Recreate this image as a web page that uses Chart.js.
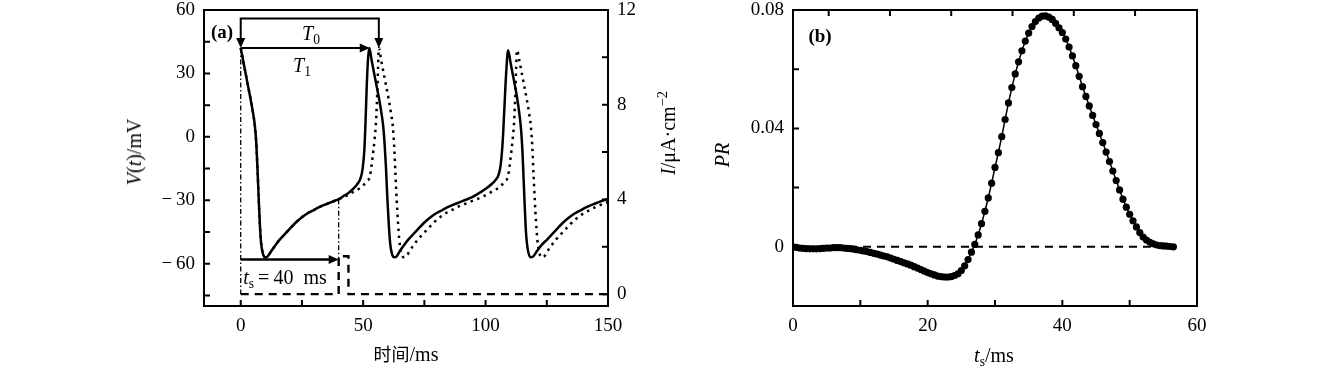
<!DOCTYPE html>
<html>
<head>
<meta charset="utf-8">
<script src="https://cdn.jsdelivr.net/npm/chart.js@4/dist/chart.umd.min.js"></script>
<style>
  body { margin: 0; background: #fff; width: 1339px; height: 370px; overflow: hidden; position: relative; font-family: 'Liberation Serif', serif; color: #000; }
  canvas { position: absolute; top: 0; }
  #chartA { left: 0; }
  #chartB { left: 700px; }
  .lbl { position: absolute; transform: translate(-50%, -50%); white-space: nowrap; font-size: 20px; line-height: 1; }
  .rot { transform: translate(-50%, -50%) rotate(-90deg); }
  .cjk { font-family: 'Noto Sans CJK SC', sans-serif; font-size: 18px; }
  .tag { font-weight: bold; font-size: 19px; }
  sub { font-size: 0.68em; vertical-align: -0.3em; line-height: 0; }
  sup { font-size: 0.72em; vertical-align: 0.55em; line-height: 0; }
</style>
</head>
<body>
<canvas id="chartA" width="700" height="370"></canvas>
<canvas id="chartB" width="639" height="370"></canvas>

<div class="lbl rot" style="left:134px;top:152px"><i>V</i>(<i>t</i>)/mV</div>
<div class="lbl rot" style="left:668px;top:133px"><i>I</i>/μA·cm<sup>−2</sup></div>
<div class="lbl" style="left:406px;top:354px"><span class="cjk">时间</span>/ms</div>
<div class="lbl tag" style="left:222px;top:31px">(a)</div>
<div class="lbl" style="left:311px;top:33px"><i>T</i><sub>0</sub></div>
<div class="lbl" style="left:302px;top:65px"><i>T</i><sub>1</sub></div>
<div class="lbl" style="left:285px;top:277px"><i>t</i><sub>s</sub>&thinsp;=&thinsp;40&nbsp; ms</div>

<div class="lbl rot" style="left:722px;top:155px"><i>PR</i></div>
<div class="lbl" style="left:994px;top:355px"><i>t</i><sub>s</sub>/ms</div>
<div class="lbl tag" style="left:820px;top:35px">(b)</div>

<script>
// --- panel (a): membrane potential traces [t (ms), V (mV)] ---
const solidTrace = [
  [0,42],[1,36],[2,30],[3,24],[4,18],[5,11.5],[5.7,6],[6.3,-2],[6.8,-14],[7.3,-28],[7.8,-41],[8.3,-50],[9,-55],[10,-57],
  [11,-56.5],[12.5,-54],[14,-51.5],[16,-48.5],[18,-46],[20,-43.5],[22.5,-40.5],[25,-38],[27.5,-36],[30,-34.5],[32.5,-33],
  [35,-31.8],[37.5,-30.6],[40,-29.5],[42,-28],[44,-26.5],[46,-24.5],[47.5,-22.5],[48.8,-20],[49.8,-15],[50.5,-6],[51,8],
  [51.5,25],[52,37],[52.5,42],
  [53.5,36],[54.5,30],[55.5,24],[56.5,18],[57.5,11],[58.2,5],[58.8,-4],[59.3,-14],[59.8,-27],[60.4,-40],[61,-50],[61.7,-55],
  [62.7,-57],[63.7,-56.5],[65,-54],[66.5,-51.5],[68.5,-48.5],[70.5,-46],[72.5,-43.5],[75,-40.5],[77.5,-38],[80,-36],
  [82.5,-34.5],[85,-33],[87.5,-31.8],[90,-30.6],[92.5,-29.5],[94.5,-28.5],[96.5,-27.2],[98.5,-25.8],[100.5,-24.2],
  [102.5,-22.3],[104,-20.5],[105.3,-18],[106.2,-13],[107,-2],[107.7,14],[108.4,30],[109.2,41],
  [110.2,35],[111.2,29],[112.2,23],[113.2,16],[114,9],[114.6,2],[115.1,-8],[115.5,-19],[116,-33],[116.5,-45],[117.2,-53],
  [118.4,-57],[119.5,-56.5],[121,-54],[123,-51],[125.2,-48.5],[127.2,-46],[129.2,-43.5],[131.7,-40.5],[134.2,-38],
  [136.7,-36],[139.2,-34.5],[141.7,-33],[144.2,-31.8],[146.7,-30.6],[150,-29.3]
];
const dottedTrace = [
  [0,42],[1,36],[2,30],[3,24],[4,18],[5,11.5],[5.7,6],[6.3,-2],[6.8,-14],[7.3,-28],[7.8,-41],[8.3,-50],[9,-55],[10,-57],
  [11,-56.5],[12.5,-54],[14,-51.5],[16,-48.5],[18,-46],[20,-43.5],[22.5,-40.5],[25,-38],[27.5,-36],[30,-34.5],[32.5,-33],
  [35,-31.8],[37.5,-30.6],[40,-29.5],[42,-28.5],[44,-27.3],[46,-26],[48,-24.8],[50,-23],[51.5,-21],[52.8,-18.5],[53.8,-10],
  [54.6,-2],[55.3,8],[55.8,22],[56.1,33],[56.4,42],
  [57.4,36],[58.4,30],[59.4,24],[60.4,18],[61.4,11],[62.1,5],[62.7,-5],[63.2,-18],[63.7,-30],[64.2,-40],[64.7,-48],
  [65.4,-54],[66.6,-57],[67.6,-56.5],[69,-54],[70.4,-51.5],[72.4,-48.5],[74.4,-46],[76.4,-43.5],[78.9,-40.5],[81.4,-38],
  [83.9,-36],[86.4,-34.5],[88.9,-33],[91.4,-31.8],[93.9,-30.6],[96.4,-29.5],[98.4,-28.5],[100.4,-27.3],[102.4,-26],
  [104.4,-24.8],[106.4,-23],[107.9,-21],[109.2,-18.5],[110.2,-10],[111,-2],[111.7,8],[112.2,22],[112.5,33],[112.8,41],
  [113.8,36],[114.8,30],[115.8,24],[116.8,18],[117.8,11],[118.5,5],[119.1,-5],[119.6,-18],[120.1,-30],[120.6,-40],
  [121.1,-48],[121.8,-54],[123,-57],[124,-56.5],[125.3,-54],[126.8,-51.5],[128.8,-48.5],[130.8,-46],[132.8,-43.5],
  [135.3,-40.5],[137.8,-38],[140.3,-36],[142.8,-34.5],[145.3,-33],[147.8,-31.8],[150,-30.8]
];
// stimulus current pulse
const pulseTime = [0, 40, 40, 44, 44, 150];
const pulseCurrent = [0, 0, 1.6, 1.6, 0, 0];

// arrows / guides in panel (a)
const T0 = 56.4, T1 = 52.7, TS = 40;
const vT0Bar = 56, vPeak = 42, vTsArrow = -58, vAtTs = -29.5;

// tick values, panel (a)
const ticksTimeA = [0, 50, 100, 150];
const minorTimeA = [25, 75, 125];
const ticksV = [-60, -30, 0, 30, 60];
const minorV = [-75, -45, -15, 15, 45];
const ticksI = [0, 4, 8, 12];
const minorI = [2, 6, 10];

// --- panel (b): PR versus ts ---
const tsValues = [
  0,0.5,1,1.5,2,2.5,3,3.5,4,4.5,5,5.5,6,6.5,7,7.5,8,8.5,9,9.5,10,10.5,11,11.5,12,12.5,13,13.5,14,14.5,
  15,15.5,16,16.5,17,17.5,18,18.5,19,19.5,20,20.5,21,21.5,22,22.5,23,23.5,24,24.5,25,25.5,26,26.5,27,27.5,
  28,28.5,29,29.5,30,30.5,31,31.5,32,32.5,33,33.5,34,34.5,35,35.5,36,36.5,37,37.5,38,38.5,39,39.5,40,40.5,
  41,41.5,42,42.5,43,43.5,44,44.5,45,45.5,46,46.5,47,47.5,48,48.5,49,49.5,50,50.5,51,51.5,52,52.5,53,53.5,
  54,54.5,55,55.5,56,56.5
];
const prValues = [
  0,-0.0002,-0.0004,-0.0005,-0.0006,-0.0007,-0.0007,-0.0007,-0.0006,-0.0005,-0.0004,-0.0004,-0.0003,-0.0003,-0.0003,-0.0004,
  -0.0005,-0.0006,-0.0008,-0.0010,-0.0012,-0.0014,-0.0016,-0.0019,-0.0022,-0.0025,-0.0028,-0.0031,-0.0034,-0.0038,
  -0.0042,-0.0046,-0.0050,-0.0054,-0.0058,-0.0062,-0.0067,-0.0072,-0.0077,-0.0082,-0.0087,-0.0091,-0.0095,-0.0099,
  -0.0101,-0.0102,-0.0102,-0.0101,-0.0097,-0.0091,-0.0080,-0.0064,-0.0043,-0.0018,0.0008,0.0040,
  0.0078,0.0120,0.0165,0.0215,0.0268,0.0318,0.0372,0.0430,0.0486,0.0538,0.0584,0.0625,0.0662,0.0695,0.0722,0.0744,
  0.0761,0.0773,0.0779,0.0780,0.0776,0.0768,0.0755,0.0740,0.0724,0.0702,
  0.0675,0.0645,0.0612,0.0576,0.0541,0.0508,0.0476,0.0444,0.0413,0.0383,0.0352,0.0320,0.0288,0.0256,0.0224,0.0192,
  0.0161,0.0134,0.0110,0.0088,0.0067,0.0048,0.0033,0.0023,0.0015,0.0010,
  0.0006,0.0004,0.0003,0.0002,0.0001,0
];
const zeroLineTs = [0, 56.5];

const ticksTsB = [0, 20, 40, 60];
const minorTsB = [10, 30, 50];
const topTicksB = [5.3, 14.4, 23.5, 32.6, 41.7, 50.8];
const ticksPR = [0, 0.04, 0.08];
const minorPR = [0.02, 0.06];

const TICK_LEN = 6;
const tickFont = { family: "'Liberation Serif', serif", size: 19 };

const toPts = pairs => pairs.map(([x, y]) => ({ x, y }));
const zipPts = (xs, ys) => xs.map((x, i) => ({ x, y: ys[i] }));
const minus = v => (v < 0 ? '\u2212\u2009' + Math.abs(v) : String(v));

function axis(extra, fixed, values, fmt) {
  return Object.assign({
    type: 'linear',
    grid: { display: false, drawTicks: false },
    border: { display: false },
    ticks: { color: '#000', font: tickFont, padding: 9, maxRotation: 0, autoSkip: false, callback: fmt },
    afterBuildTicks: s => { s.ticks = values.map(v => ({ value: v })); },
    afterFit: s => {
      fixed(s);
      // keep tick-label overflow from pushing the plot box around
      s.paddingTop = 0; s.paddingBottom = 0; s.paddingLeft = 0; s.paddingRight = 0;
    }
  }, extra);
}

// box frame + inward tick marks
function frameTicks(spec) {
  return {
    id: 'frameTicks',
    afterDraw(chart) {
      const { ctx, chartArea: a } = chart;
      ctx.save();
      ctx.strokeStyle = '#000';
      ctx.lineWidth = 2;
      ctx.strokeRect(a.left, a.top, a.right - a.left, a.bottom - a.top);
      ctx.beginPath();
      spec.forEach(({ scale, values, side }) => {
        const s = chart.scales[scale];
        values.forEach(v => {
          const p = s.getPixelForValue(v);
          if (side === 'bottom') { ctx.moveTo(p, a.bottom); ctx.lineTo(p, a.bottom - TICK_LEN); }
          if (side === 'top') { ctx.moveTo(p, a.top); ctx.lineTo(p, a.top + TICK_LEN); }
          if (side === 'left') { ctx.moveTo(a.left, p); ctx.lineTo(a.left + TICK_LEN, p); }
          if (side === 'right') { ctx.moveTo(a.right, p); ctx.lineTo(a.right - TICK_LEN, p); }
        });
      });
      ctx.stroke();
      ctx.restore();
    }
  };
}

function arrowHead(ctx, x, y, dir) {
  const len = 10, half = 4.5;
  ctx.beginPath();
  if (dir === 'right') { ctx.moveTo(x, y); ctx.lineTo(x - len, y - half); ctx.lineTo(x - len, y + half); }
  else { ctx.moveTo(x, y); ctx.lineTo(x - half, y - len); ctx.lineTo(x + half, y - len); }
  ctx.closePath();
  ctx.fill();
}

const markersA = {
  id: 'markersA',
  afterDatasetsDraw(chart) {
    const { ctx, scales: { x, yV, yI } } = chart;
    const seg = (x1, y1, x2, y2) => { ctx.beginPath(); ctx.moveTo(x1, y1); ctx.lineTo(x2, y2); ctx.stroke(); };
    const x0 = x.getPixelForValue(0), xT0 = x.getPixelForValue(T0), xT1 = x.getPixelForValue(T1), xTs = x.getPixelForValue(TS);
    const yBar = yV.getPixelForValue(vT0Bar), yPk = yV.getPixelForValue(vPeak), yTs = yV.getPixelForValue(vTsArrow);
    ctx.save();
    ctx.strokeStyle = '#000';
    ctx.fillStyle = '#000';
    // dash-dot guides
    ctx.lineWidth = 1.3;
    ctx.setLineDash([5, 2.5, 1.5, 2.5]);
    seg(x0, yPk, x0, yI.getPixelForValue(0));
    seg(xTs, yV.getPixelForValue(vAtTs), xTs, yTs);
    ctx.setLineDash([]);
    // T0 bracket
    ctx.lineWidth = 2;
    ctx.beginPath();
    ctx.moveTo(x0, yPk - 9); ctx.lineTo(x0, yBar); ctx.lineTo(xT0, yBar); ctx.lineTo(xT0, yPk - 9);
    ctx.stroke();
    arrowHead(ctx, x0, yPk, 'down');
    arrowHead(ctx, xT0, yPk, 'down');
    // T1 arrow
    seg(x0, yPk, xT1 - 9, yPk);
    arrowHead(ctx, xT1, yPk, 'right');
    // ts arrow
    ctx.lineWidth = 2.5;
    seg(x0, yTs, xTs - 9, yTs);
    arrowHead(ctx, xTs, yTs, 'right');
    ctx.restore();
  }
};

new Chart(document.getElementById('chartA'), {
  type: 'scatter',
  data: {
    datasets: [
      { data: toPts(solidTrace), yAxisID: 'yV', showLine: true, borderColor: '#000', borderWidth: 2.5,
        pointRadius: 0, cubicInterpolationMode: 'monotone' },
      { data: toPts(dottedTrace), yAxisID: 'yV', showLine: true, borderColor: '#000', borderWidth: 2.5,
        borderDash: [2.5, 4.5], pointRadius: 0, cubicInterpolationMode: 'monotone' },
      { data: zipPts(pulseTime, pulseCurrent), yAxisID: 'yI', showLine: true, borderColor: '#000', borderWidth: 2.4,
        borderDash: [8, 6], pointRadius: 0, tension: 0 }
    ]
  },
  options: {
    responsive: false,
    animation: false,
    layout: { padding: { top: 10, left: 0, right: 0, bottom: 0 } },
    plugins: { legend: { display: false }, tooltip: { enabled: false } },
    scales: {
      x: axis({ position: 'bottom', min: -15, max: 150 }, s => { s.height = 64; }, ticksTimeA, v => String(v)),
      yV: axis({ position: 'left', min: -80, max: 60 }, s => { s.width = 204; }, ticksV, minus),
      yI: axis({ position: 'right', min: -0.5, max: 12 }, s => { s.width = 92; }, ticksI, v => String(v))
    }
  },
  plugins: [frameTicks([
    { scale: 'x', values: ticksTimeA.concat(minorTimeA), side: 'bottom' },
    { scale: 'yV', values: ticksV.concat(minorV), side: 'left' },
    { scale: 'yI', values: ticksI.concat(minorI), side: 'right' }
  ]), markersA]
});

new Chart(document.getElementById('chartB'), {
  type: 'scatter',
  data: {
    datasets: [
      { data: zipPts(tsValues, prValues), showLine: true, borderColor: '#000', borderWidth: 1.5,
        pointRadius: 3.6, pointBackgroundColor: '#000', pointBorderWidth: 0, tension: 0, order: 0 },
      { data: zipPts(zeroLineTs, [0, 0]), showLine: true, borderColor: '#000', borderWidth: 2,
        borderDash: [8, 6], pointRadius: 0, order: 1 }
    ]
  },
  options: {
    responsive: false,
    animation: false,
    layout: { padding: { top: 10, left: 0, right: 142, bottom: 0 } },
    plugins: { legend: { display: false }, tooltip: { enabled: false } },
    scales: {
      x: axis({ position: 'bottom', min: 0, max: 60 }, s => { s.height = 64; }, ticksTsB, v => String(v)),
      y: axis({ position: 'left', min: -0.02, max: 0.08 }, s => { s.width = 93; }, ticksPR,
        v => (v === 0 ? '0' : v.toFixed(2)))
    }
  },
  plugins: [frameTicks([
    { scale: 'x', values: ticksTsB.concat(minorTsB), side: 'bottom' },
    { scale: 'x', values: topTicksB, side: 'top' },
    { scale: 'y', values: ticksPR.concat(minorPR), side: 'left' }
  ])]
});
</script>
</body>
</html>
